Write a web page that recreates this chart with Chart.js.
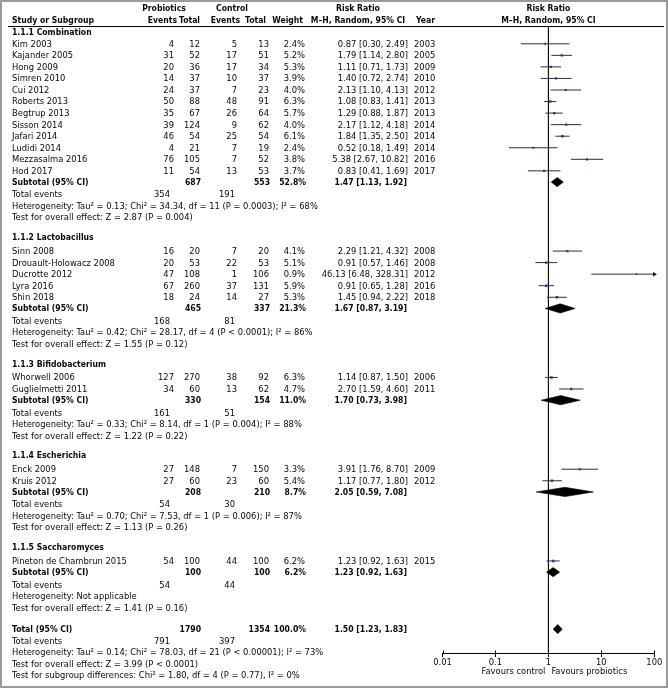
<!DOCTYPE html>
<html>
<head>
<meta charset="utf-8">
<script src="https://cdn.jsdelivr.net/npm/chart.js@4.4.1/dist/chart.umd.min.js"></script>
<style>
  html, body { margin: 0; padding: 0; background: #fff; }
  #c { display: block; }
</style>
</head>
<body>
<canvas id="c" width="668" height="688"></canvas>
<script>
// ---------------- DATA ----------------
const groupNames = ['1.1.1 Combination', '1.1.2 Lactobacillus', '1.1.3 Bifidobacterium', '1.1.4 Escherichia', '1.1.5 Saccharomyces'];

const studyNames = ['Kim 2003', 'Kajander 2005', 'Hong 2009', 'Simren 2010', 'Cui 2012', 'Roberts 2013', 'Begtrup 2013', 'Sisson 2014', 'Jafari 2014', 'Ludidi 2014', 'Mezzasalma 2016', 'Hod 2017',
  'Sinn 2008', 'Drouault-Holowacz 2008', 'Ducrotte 2012', 'Lyra 2016', 'Shin 2018',
  'Whorwell 2006', 'Guglielmetti 2011',
  'Enck 2009', 'Kruis 2012',
  'Pineton de Chambrun 2015'];
const studyGroup = [0,0,0,0,0,0,0,0,0,0,0,0, 1,1,1,1,1, 2,2, 3,3, 4];
const probEvents = [4,31,20,14,24,50,35,39,46,4,76,11, 16,20,47,67,18, 127,34, 27,27, 54];
const probTotal  = [12,52,36,37,37,88,67,124,54,21,105,54, 20,53,108,260,24, 270,60, 148,60, 100];
const ctrlEvents = [5,17,17,10,7,48,26,9,25,7,7,13, 7,22,1,37,14, 38,13, 7,23, 44];
const ctrlTotal  = [13,51,34,37,23,91,64,62,54,19,52,53, 20,53,106,131,27, 92,62, 150,60, 100];
const weights    = [2.4,5.2,5.3,3.9,4.0,6.3,5.7,4.0,6.1,2.4,3.8,3.7, 4.1,5.1,0.9,5.9,5.3, 6.3,4.7, 3.3,5.4, 6.2];
const rr         = [0.87,1.79,1.11,1.40,2.13,1.08,1.29,2.17,1.84,0.52,5.38,0.83, 2.29,0.91,46.13,0.91,1.45, 1.14,2.70, 3.91,1.17, 1.23];
const rrLow      = [0.30,1.14,0.71,0.72,1.10,0.83,0.88,1.12,1.35,0.18,2.67,0.41, 1.21,0.57,6.48,0.65,0.94, 0.87,1.59, 1.76,0.77, 0.92];
const rrHigh     = [2.49,2.80,1.73,2.74,4.13,1.41,1.87,4.18,2.50,1.49,10.82,1.69, 4.32,1.46,328.31,1.28,2.22, 1.50,4.60, 8.70,1.80, 1.63];
const years      = [2003,2005,2009,2010,2012,2013,2013,2014,2014,2014,2016,2017, 2008,2008,2012,2016,2018, 2006,2011, 2009,2012, 2015];

const subProbTotal  = [687, 465, 330, 208, 100];
const subCtrlTotal  = [553, 337, 154, 210, 100];
const subWeight     = [52.8, 21.3, 11.0, 8.7, 6.2];
const subRR         = [1.47, 1.67, 1.70, 2.05, 1.23];
const subLow        = [1.13, 0.87, 0.73, 0.59, 0.92];
const subHigh       = [1.92, 3.19, 3.98, 7.08, 1.63];
const subProbEvents = [354, 168, 161, 54, 54];
const subCtrlEvents = [191, 81, 51, 30, 44];
const subHet = [
  'Heterogeneity: Tau² = 0.13; Chi² = 34.34, df = 11 (P = 0.0003); I² = 68%',
  'Heterogeneity: Tau² = 0.42; Chi² = 28.17, df = 4 (P < 0.0001); I² = 86%',
  'Heterogeneity: Tau² = 0.33; Chi² = 8.14, df = 1 (P = 0.004); I² = 88%',
  'Heterogeneity: Tau² = 0.70; Chi² = 7.53, df = 1 (P = 0.006); I² = 87%',
  'Heterogeneity: Not applicable'];
const subTest = [
  'Test for overall effect: Z = 2.87 (P = 0.004)',
  'Test for overall effect: Z = 1.55 (P = 0.12)',
  'Test for overall effect: Z = 1.22 (P = 0.22)',
  'Test for overall effect: Z = 1.13 (P = 0.26)',
  'Test for overall effect: Z = 1.41 (P = 0.16)'];

const totProbTotal = 1790, totCtrlTotal = 1354, totWeight = 100.0;
const totRR = 1.50, totLow = 1.23, totHigh = 1.83;
const totProbEvents = 791, totCtrlEvents = 397;
const totHet = 'Heterogeneity: Tau² = 0.14; Chi² = 78.03, df = 21 (P < 0.00001); I² = 73%';
const totTest = 'Test for overall effect: Z = 3.99 (P < 0.0001)';
const totSubgroup = 'Test for subgroup differences: Chi² = 1.80, df = 4 (P = 0.77), I² = 0%';

const xTicks = [0.01, 0.1, 1, 10, 100];
const favoursLeft = 'Favours control';
const favoursRight = 'Favours probiotics';

// ---------------- LAYOUT / STYLE ----------------
const W = 668, H = 688;
const FAMILY = "'DejaVu Sans Condensed', 'DejaVu Sans', sans-serif";
const mctx = document.createElement('canvas').getContext('2d');
mctx.font = '10px ' + FAMILY;
const FS = +(10 * 306 / mctx.measureText(subHet[0]).width).toFixed(2);
mctx.font = 'bold 10px ' + FAMILY;
const FSB = +(10 * 82 / mctx.measureText('Study or Subgroup').width).toFixed(2);
const TXT = '#0a0a0a';

const PLOT_L = 442.5, PLOT_R = 654.3;
const Y_TOP = 26, Y_AXIS = 653;     // layout units along the (hidden) row axis
const AXIS_H = 20;
const X_MIN = 0.01, X_MAX = 100;
const DIAMOND_H = 4.6;

const COL = { name: 12, pe: 174, pt: 200, ce: 237, ct: 269, w: 305, rr: 408, yr: 414, teP: 170, teC: 235 };

// row positions (layout units)
const rows = [];
const studyY = new Array(studyNames.length);
const subY = [];
let yy = Y_TOP + 6.3;
groupNames.forEach((g, gi) => {
  if (gi > 0) yy += 20;
  rows.push({ kind: 'group', y: yy, gi });
  let first = true;
  studyGroup.forEach((sg, i) => {
    if (sg !== gi) return;
    yy += first ? (gi === 0 ? 11.5 : 13.5) : 11.55;
    first = false;
    studyY[i] = yy;
    rows.push({ kind: 'study', y: yy, i });
  });
  yy += 11.2; subY[gi] = yy; rows.push({ kind: 'subtotal', y: yy, gi });
  yy += 12.5; rows.push({ kind: 'events', y: yy, gi });
  yy += 11.5; rows.push({ kind: 'het', y: yy, gi });
  yy += 11.5; rows.push({ kind: 'test', y: yy, gi });
});
yy += 21.5; const totY = yy; rows.push({ kind: 'total', y: yy });
yy += 11.6; rows.push({ kind: 'totevents', y: yy });
yy += 11.6; rows.push({ kind: 'tothet', y: yy });
yy += 11.6; rows.push({ kind: 'tottest', y: yy });
yy += 11.6; rows.push({ kind: 'totsub', y: yy });

// ---------------- DATASETS ----------------
const fmtRR = (e, l, h) => e.toFixed(2) + ' [' + l.toFixed(2) + ', ' + h.toFixed(2) + ']';

const datasets = [];
datasets.push({
  label: 'estimates', order: 0, showLine: false,
  data: rr.map((v, i) => ({ x: v, y: studyY[i] })),
  pointStyle: 'rect',
  pointRadius: weights.map(w => 1.15 + 0.1 * w),
  backgroundColor: '#2a2ac8', borderWidth: 0
});
const ciData = [];
rr.forEach((v, i) => {
  ciData.push({ x: rrLow[i], y: studyY[i] }, { x: rrHigh[i], y: studyY[i] }, { x: rrHigh[i], y: null });
});
datasets.push({
  label: 'ci', order: 2, showLine: true, spanGaps: false,
  data: ciData, borderColor: '#2e2e2e', borderWidth: 1, pointRadius: 0
});
const arrowData = [];
rrHigh.forEach((h, i) => { if (h > X_MAX) arrowData.push({ x: X_MAX, y: studyY[i] }); });
datasets.push({
  label: 'arrows', order: 1, showLine: false, clip: false,
  data: arrowData, pointStyle: 'triangle', rotation: 90, pointRadius: 2.6,
  backgroundColor: '#111', borderColor: '#111', borderWidth: 0
});
datasets.push({
  label: 'noeffect', order: 3, showLine: true,
  data: [{ x: 1, y: Y_TOP }, { x: 1, y: Y_AXIS }],
  borderColor: '#000', borderWidth: 1.1, pointRadius: 0
});
function addDiamond(est, lo, hi, y) {
  datasets.push({
    label: 'dU', order: 1, showLine: true, fill: false,
    data: [{ x: lo, y: y }, { x: est, y: y - DIAMOND_H }, { x: hi, y: y }],
    borderColor: '#000', borderWidth: 0.6, pointRadius: 0, tension: 0
  });
  datasets.push({
    label: 'dL', order: 1, showLine: true, fill: { target: '-1' }, backgroundColor: '#000',
    data: [{ x: lo, y: y }, { x: est, y: y + DIAMOND_H }, { x: hi, y: y }],
    borderColor: '#000', borderWidth: 0.6, pointRadius: 0, tension: 0
  });
}
subRR.forEach((e, gi) => addDiamond(e, subLow[gi], subHigh[gi], subY[gi]));
addDiamond(totRR, totLow, totHigh, totY);

// ---------------- TABLE PLUGIN ----------------
function txt(ctx, s, x, y, align, bold) {
  ctx.font = bold ? ('bold ' + FSB + 'px ' + FAMILY) : (FS + 'px ' + FAMILY);
  ctx.textAlign = align;
  ctx.textBaseline = 'middle';
  ctx.fillStyle = TXT;
  ctx.fillText(String(s), x, y);
}

const tablePlugin = {
  id: 'forestTable',
  afterDraw(chart) {
    const ctx = chart.ctx;
    const ys = chart.scales.y, xs = chart.scales.x;
    ctx.save();
    ctx.strokeStyle = '#9a9a9a'; ctx.lineWidth = 2;
    ctx.strokeRect(1, 1, W - 2, H - 2);
    const h1 = 9, h2 = 20.5;
    txt(ctx, 'Probiotics', 164, h1, 'center', true);
    txt(ctx, 'Control', 232, h1, 'center', true);
    txt(ctx, 'Risk Ratio', 358, h1, 'center', true);
    const x1 = xs.getPixelForValue(1);
    txt(ctx, 'Risk Ratio', x1, h1, 'center', true);
    txt(ctx, 'Study or Subgroup', COL.name, h2, 'left', true);
    txt(ctx, 'Events', 177, h2, 'right', true);
    txt(ctx, 'Total', 200, h2, 'right', true);
    txt(ctx, 'Events', 240, h2, 'right', true);
    txt(ctx, 'Total', 266, h2, 'right', true);
    txt(ctx, 'Weight', 303, h2, 'right', true);
    txt(ctx, 'M–H, Random, 95% CI', 358, h2, 'center', true);
    txt(ctx, 'Year', COL.yr + 2, h2, 'left', true);
    txt(ctx, 'M–H, Random, 95% CI', x1, h2, 'center', true);
    const lineY = Math.round(ys.getPixelForValue(Y_TOP)) + 0.5;
    ctx.strokeStyle = '#000'; ctx.lineWidth = 1;
    ctx.beginPath(); ctx.moveTo(8, lineY); ctx.lineTo(W - 4, lineY); ctx.stroke();

    rows.forEach(r => {
      const y = ys.getPixelForValue(r.y) + 0.5;
      switch (r.kind) {
        case 'group': txt(ctx, groupNames[r.gi], COL.name, y, 'left', true); break;
        case 'study': {
          const i = r.i;
          txt(ctx, studyNames[i], COL.name, y, 'left');
          txt(ctx, probEvents[i], COL.pe, y, 'right');
          txt(ctx, probTotal[i], COL.pt, y, 'right');
          txt(ctx, ctrlEvents[i], COL.ce, y, 'right');
          txt(ctx, ctrlTotal[i], COL.ct, y, 'right');
          txt(ctx, weights[i].toFixed(1) + '%', COL.w, y, 'right');
          txt(ctx, fmtRR(rr[i], rrLow[i], rrHigh[i]), COL.rr, y, 'right');
          txt(ctx, years[i], COL.yr, y, 'left');
          break;
        }
        case 'subtotal': {
          const g = r.gi;
          txt(ctx, 'Subtotal (95% CI)', COL.name, y, 'left', true);
          txt(ctx, subProbTotal[g], COL.pt + 1, y, 'right', true);
          txt(ctx, subCtrlTotal[g], COL.ct + 1, y, 'right', true);
          txt(ctx, subWeight[g].toFixed(1) + '%', COL.w + 1, y, 'right', true);
          txt(ctx, fmtRR(subRR[g], subLow[g], subHigh[g]), COL.rr - 1, y, 'right', true);
          break;
        }
        case 'events':
          txt(ctx, 'Total events', COL.name, y, 'left');
          txt(ctx, subProbEvents[r.gi], COL.teP, y, 'right');
          txt(ctx, subCtrlEvents[r.gi], COL.teC, y, 'right');
          break;
        case 'het': txt(ctx, subHet[r.gi], COL.name, y, 'left'); break;
        case 'test': txt(ctx, subTest[r.gi], COL.name, y, 'left'); break;
        case 'total':
          txt(ctx, 'Total (95% CI)', COL.name, y, 'left', true);
          txt(ctx, totProbTotal, COL.pt + 1, y, 'right', true);
          txt(ctx, totCtrlTotal, COL.ct + 1, y, 'right', true);
          txt(ctx, totWeight.toFixed(1) + '%', COL.w + 1, y, 'right', true);
          txt(ctx, fmtRR(totRR, totLow, totHigh), COL.rr - 1, y, 'right', true);
          break;
        case 'totevents':
          txt(ctx, 'Total events', COL.name, y, 'left');
          txt(ctx, totProbEvents, COL.teP, y, 'right');
          txt(ctx, totCtrlEvents, COL.teC, y, 'right');
          break;
        case 'tothet': txt(ctx, totHet, COL.name, y, 'left'); break;
        case 'tottest': txt(ctx, totTest, COL.name, y, 'left'); break;
        case 'totsub': txt(ctx, totSubgroup, COL.name, y, 'left'); break;
      }
    });

    const ay = Math.round(ys.getPixelForValue(Y_AXIS)) + 0.5;
    ctx.strokeStyle = '#000'; ctx.lineWidth = 1;
    xTicks.forEach(v => {
      const px = Math.round(xs.getPixelForValue(v)) + 0.5;
      ctx.beginPath(); ctx.moveTo(px, ay - 3); ctx.lineTo(px, ay); ctx.stroke();
    });
    const fy = ay + 18;
    txt(ctx, favoursLeft, x1 - 3, fy, 'right');
    txt(ctx, favoursRight, x1 + 3, fy, 'left');
    ctx.restore();
  }
};

// ---------------- CHART ----------------
new Chart(document.getElementById('c'), {
  type: 'scatter',
  data: { datasets },
  options: {
    responsive: false,
    animation: false,
    events: [],
    layout: { padding: { left: PLOT_L, right: W - PLOT_R, top: Y_TOP, bottom: H - Y_AXIS - AXIS_H } },
    scales: {
      x: {
        type: 'logarithmic', min: X_MIN, max: X_MAX,
        afterBuildTicks: s => { s.ticks = xTicks.map(v => ({ value: v })); },
        afterFit: s => { s.height = AXIS_H; },
        ticks: { callback: v => String(v), font: { family: FAMILY, size: FS }, color: TXT, padding: 0, maxRotation: 0, autoSkip: false },
        grid: { drawOnChartArea: false, drawTicks: true, tickLength: 4, color: '#000', lineWidth: 1 },
        border: { display: true, color: '#000', width: 1 }
      },
      y: { type: 'linear', min: Y_TOP, max: Y_AXIS, reverse: true, display: false }
    },
    plugins: { legend: { display: false }, tooltip: { enabled: false } }
  },
  plugins: [tablePlugin]
});
</script>
</body>
</html>
